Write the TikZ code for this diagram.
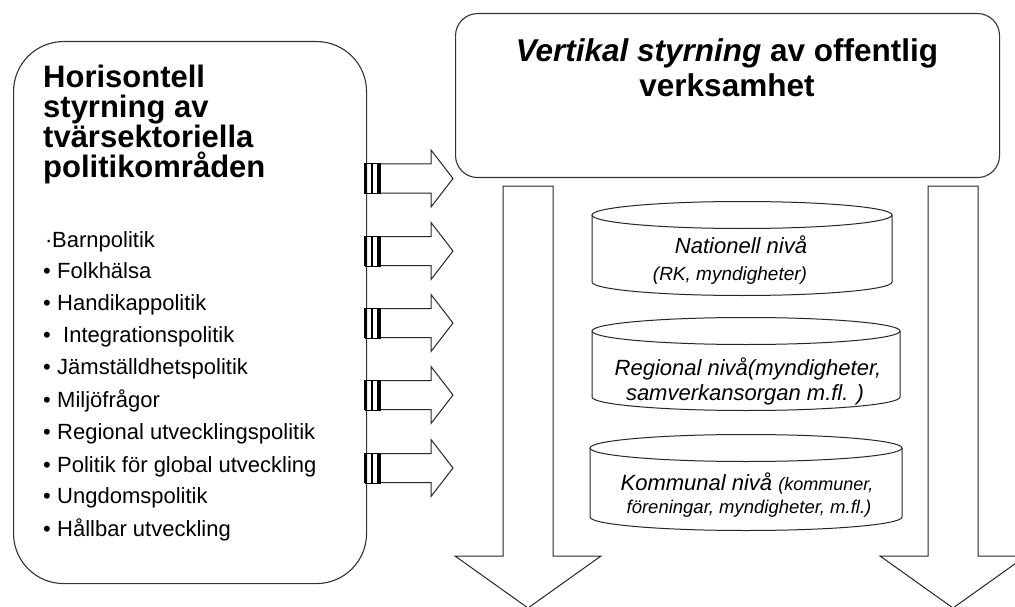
\documentclass[tikz,border=0pt]{standalone}
\usepackage{fontspec}
\setmainfont{Liberation Sans}
\begin{document}
\begin{tikzpicture}[x=1pt,y=-1pt,
  outline/.style={draw=black!80, line width=1.1pt},
  bigbox/.style={outline, rounded corners=50pt, anchor=north west, inner sep=0pt},
  topbox/.style={outline, rounded corners=22pt, anchor=north west, inner sep=0pt},
  htitle/.style={anchor=base west, inner sep=0pt, font=\bfseries\fontsize{31}{31}\selectfont},
  vtitle/.style={anchor=base, inner sep=0pt, font=\bfseries\fontsize{31.5}{35}\selectfont},
  item/.style={anchor=base west, inner sep=0pt, font=\fontsize{22}{22}\selectfont},
  cyltext/.style={anchor=base, inner sep=0pt, font=\itshape\fontsize{22}{22}\selectfont},
  cylsmall/.style={anchor=base, inner sep=0pt, font=\itshape\fontsize{19}{19}\selectfont},
  shapeline/.style={draw=black!85, line width=1pt, fill=white, line join=miter}
]
\useasboundingbox (0,0) rectangle (1015,607);
\fill[white] (0,0) rectangle (1015,607);

% left box
\node[bigbox, minimum width=353pt, minimum height=542pt] (hbox) at (13,41) {};
\node[htitle] (ht1) at (43,88) {Horisontell};
\node[htitle] (ht2) at (43,118) {styrning av};
\node[htitle] (ht3) at (43,148) {tvärsektoriella};
\node[htitle] (ht4) at (43,178) {politikområden};

% bullet list
\node[item] (d1) at (45,247) {·};
\node[item] (i1) at (52,247) {Barnpolitik};
\foreach \t/\y/\xx/\k in {Folkhälsa/278.6/57/2, Handikappolitik/310.7/57/3, Integrationspolitik/342.8/63/4,
  Jämställdhetspolitik/374.9/57/5, Miljöfrågor/407/57/6, Regional utvecklingspolitik/439.1/57/7,
  Politik för global utveckling/472.2/57/8, Ungdomspolitik/503.3/57/9, Hållbar utveckling/536.4/57/10}{
  \node[item] (d\k) at (43,\y) {•};
  \node[item] (i\k) at (\xx,\y) {\t};
}

% top box
\node[topbox, minimum width=544pt, minimum height=164pt] (vbox) at (455,13) {};
\node[vtitle] (vt1) at (727,62) {\textit{Vertikal styrning} av offentlig};
\node[vtitle] (vt2) at (727,97) {verksamhet};

% striped right arrows
\foreach \c in {178.5,251,323,395,468}{
  \draw[shapeline] (380,\c-14.5) -- (431,\c-14.5) -- (431,\c-28.5) -- (453,\c)
     -- (431,\c+28.5) -- (431,\c+14.5) -- (380,\c+14.5);
  \draw[black, line width=0.9pt] (365,\c-15) rectangle (380,\c+15);
  \fill[black] (364,\c-15.4) rectangle (367,\c+15.4);
  \fill[black] (370.7,\c-15.4) rectangle (372.5,\c+15.4);
  \fill[black] (377,\c-15.4) rectangle (380.2,\c+15.4);
}

% down arrows
\draw[shapeline] (503,186) -- (553,186) -- (553,556) -- (601,556) -- (528,608)
   -- (455,556) -- (503,556) -- cycle;
\draw[shapeline] (928,186) -- (978,186) -- (978,556) -- (1026,556) -- (953,608)
   -- (880,556) -- (928,556) -- cycle;

% cylinders
\foreach \L/\R/\yt/\yb/\k in {592/892/215/282/1, 592/900/331/397/2, 590/902/448/517/3}{
  \pgfmathsetmacro{\cx}{(\L+\R)/2}
  \pgfmathsetmacro{\rx}{(\R-\L)/2}
  \draw[shapeline] (\L,\yt) -- (\L,\yb) arc[start angle=180, end angle=0, x radius=\rx, y radius=13.5]
     -- (\R,\yt);
  \draw[shapeline] (\cx,\yt) ellipse[x radius=\rx, y radius=13.5];
}
\node[cyltext] (n1) at (741,253) {Nationell nivå};
\node[cylsmall] (n2) at (730,280) {(RK, myndigheter)};
\node[cyltext] (r1) at (748,375) {Regional nivå(myndigheter,};
\node[cyltext] (r2) at (745,400) {samverkansorgan m.fl. )};
\node[cyltext] (k1) at (747,490) {Kommunal nivå {\fontsize{18}{18}\selectfont(kommuner,}};
\node[cylsmall, font=\itshape\fontsize{18.5}{18.5}\selectfont] (k2) at (749,513) {föreningar, myndigheter, m.fl.)};
\end{tikzpicture}
\end{document}
